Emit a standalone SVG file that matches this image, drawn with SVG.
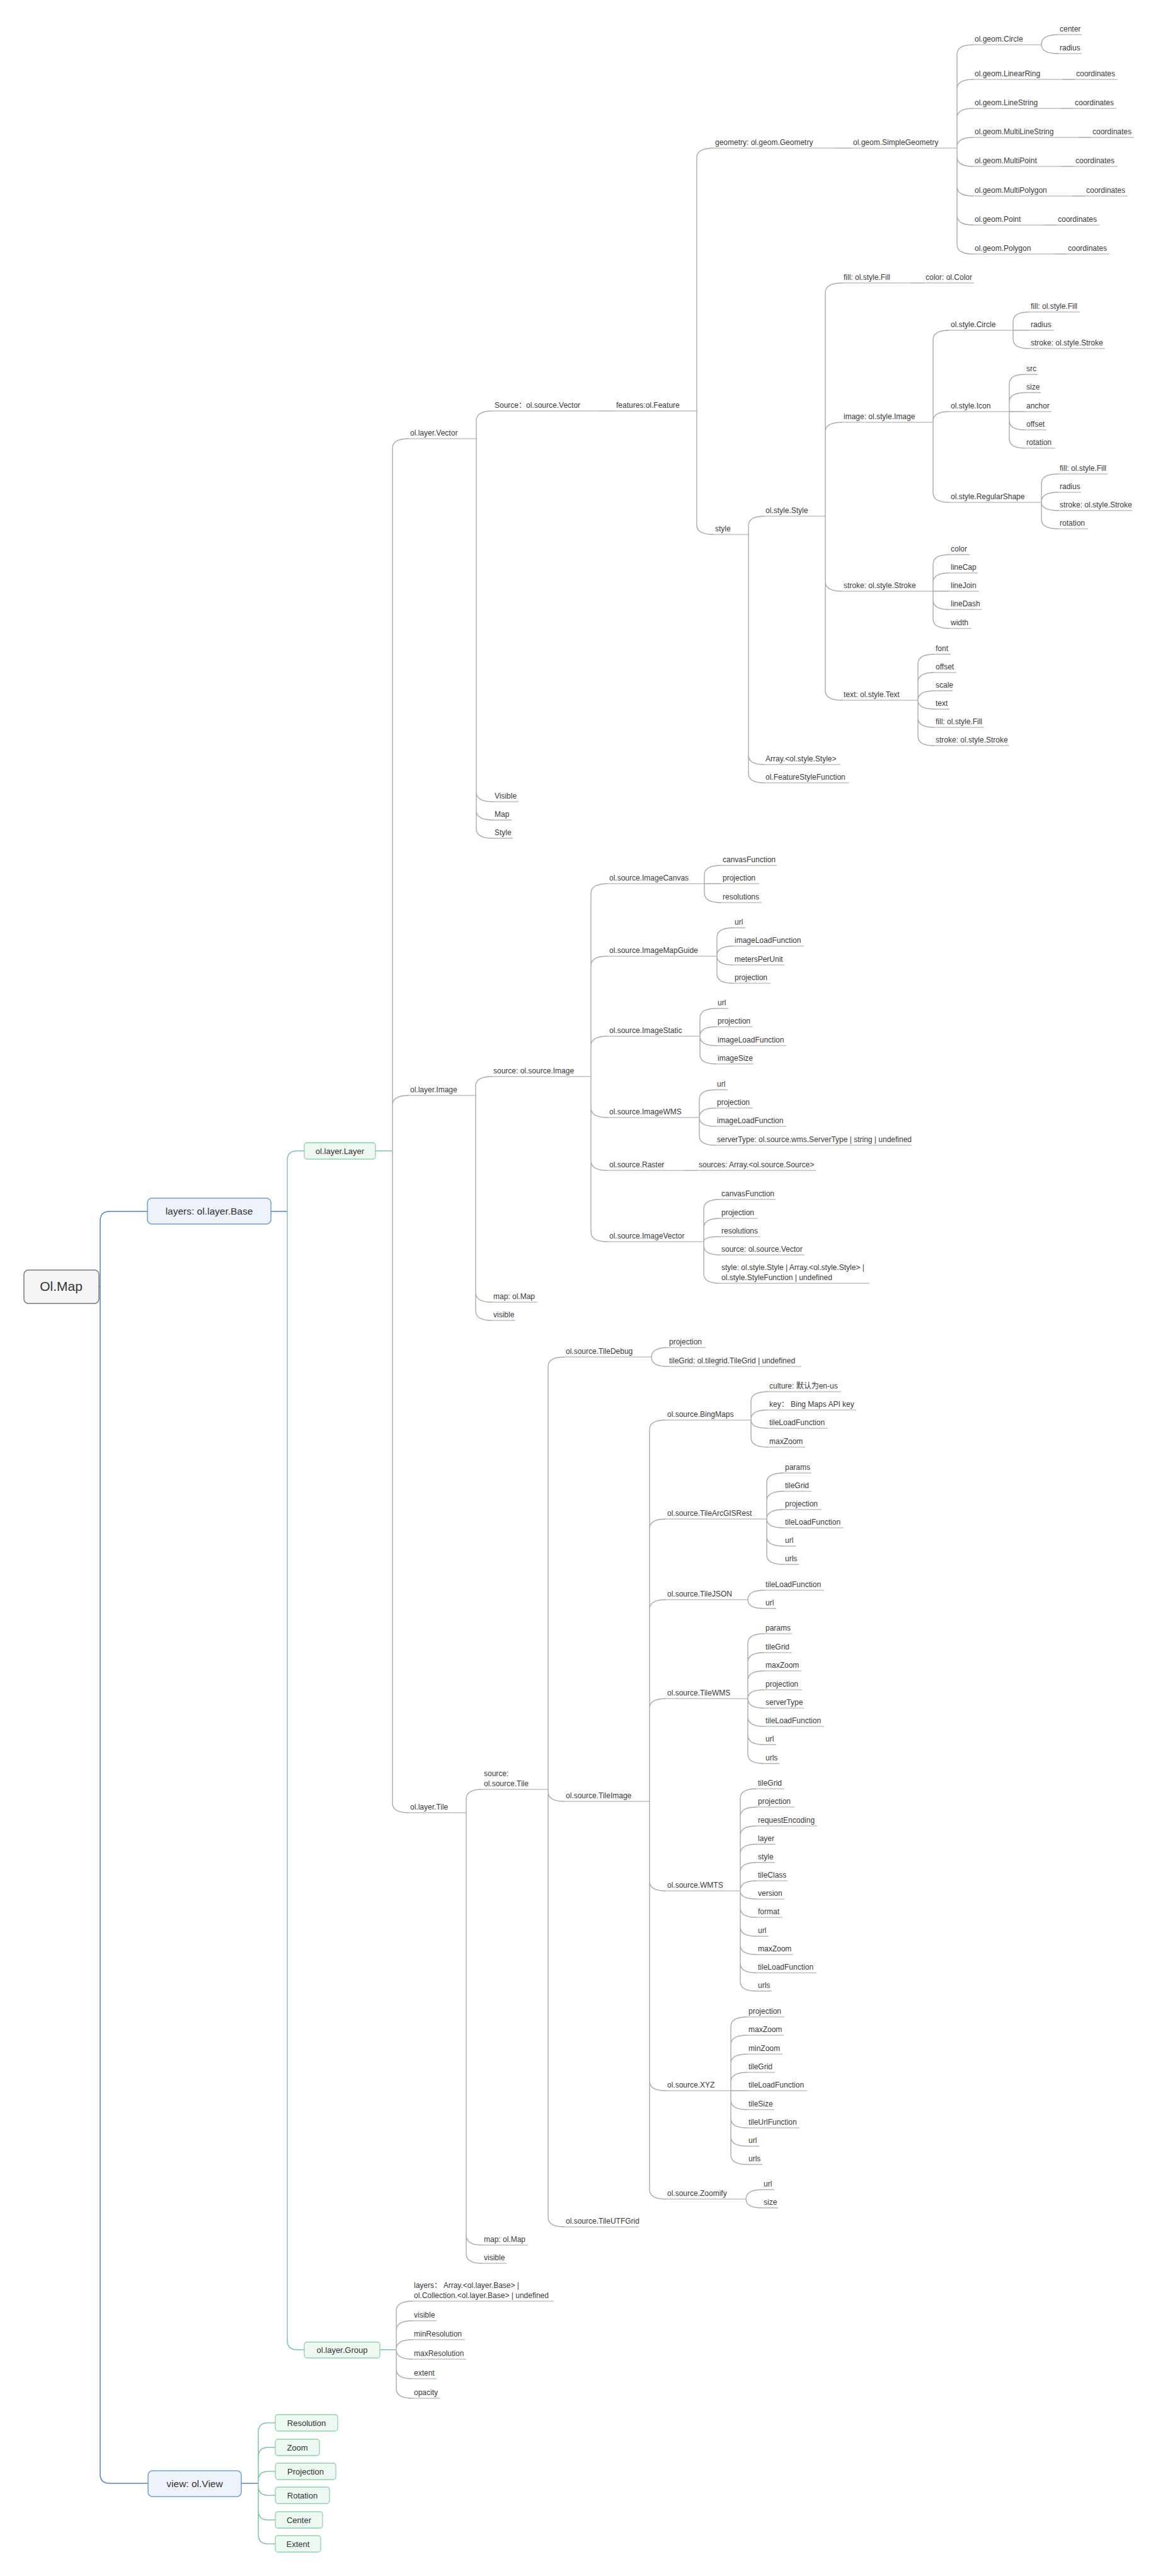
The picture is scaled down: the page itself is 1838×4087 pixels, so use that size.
<svg xmlns="http://www.w3.org/2000/svg" width="1838" height="4087" viewBox="0 0 1838 4087">
<style>
.n text{font-family:"Liberation Sans","Noto Sans CJK SC",sans-serif;font-size:12px;fill:#3a3a3a}
.n path{stroke:#a3a3a3;stroke-width:1.2;fill:none}
.bx text{font-family:"Liberation Sans","Noto Sans CJK SC",sans-serif;fill:#333;text-anchor:middle}
.bb{fill:#eef3fb;stroke:#6f9fd6;stroke-width:1.5}
.gb{fill:#eef8f2;stroke:#8dd3a8;stroke-width:1.3}
#connectors path{fill:none}
.cg{stroke:#ababab;stroke-width:1.4}
.cb{stroke:#4f82c2;stroke-width:1.5}
.cn{stroke:#7cc79a;stroke-width:1.5}
</style>
<rect width="1838" height="4087" fill="#fff"/>
<g id="connectors">
<path class="cb" d="M156 2041H159V1937Q159 1922 174 1922H234M159 2041V3925Q159 3940 174 3940H235M430 1922H456M383 3940H410"/>
<path class="cn" d="M456 1922V1841Q456 1826 471 1826H483M456 1922V3713Q456 3728 471 3728H483M596 1826H623M603 3728H629"/>
<path class="cn" d="M410 3940V3859Q410 3844 425 3844H437M410 3940V3898Q410 3883 425 3883H437M410 3940V3936Q410 3921 425 3921H437M410 3940V3944Q410 3959 425 3959H437M410 3940V3983Q410 3998 425 3998H437M410 3940V4021Q410 4036 425 4036H437"/>
<path class="cg" d="M623 1826V711Q623 696 649 696M623 1826V1753Q623 1738 649 1738M623 1826V2861Q623 2876 649 2876"/>
<path class="cg" d="M756 696V667Q756 652 783 652M756 696V1257Q756 1272 783 1272M756 696V1286Q756 1301 783 1301M756 696V1315Q756 1330 783 1330"/>
<path class="cg" d="M950 652H976"/>
<path class="cg" d="M1106 652V250Q1106 235 1133 235M1106 652V833Q1106 848 1133 848"/>
<path class="cg" d="M1326 235H1352"/>
<path class="cg" d="M1519 235V86Q1519 71 1545 71M1519 235V141Q1519 126 1545 126M1519 235V187Q1519 172 1545 172M1519 235V233Q1519 218 1545 218M1519 235V249Q1519 264 1545 264M1519 235V296Q1519 311 1545 311M1519 235V342Q1519 357 1545 357M1519 235V388Q1519 403 1545 403"/>
<path class="cg" d="M1686 126H1706M1684 172H1704M1712 218H1732M1685 264H1705M1702 311H1722M1657 357H1677M1673 403H1693"/>
<path class="cg" d="M1653 71V70Q1653 55 1680 55M1653 71Q1653 85 1680 85"/>
<path class="cg" d="M1188 848V834Q1188 819 1213 819M1188 848V1198Q1188 1213 1213 1213M1188 848V1227Q1188 1242 1213 1242"/>
<path class="cg" d="M1310 819V464Q1310 449 1337 449M1310 819V685Q1310 670 1337 670M1310 819V923Q1310 938 1337 938M1310 819V1096Q1310 1111 1337 1111"/>
<path class="cg" d="M1446 449H1467"/>
<path class="cg" d="M1481 670V539Q1481 524 1507 524M1481 670V668Q1481 653 1507 653M1481 670V782Q1481 797 1507 797"/>
<path class="cg" d="M1608 524V510Q1608 495 1634 495M1608 524H1634M1608 524V538Q1608 553 1634 553"/>
<path class="cg" d="M1602 653V609Q1602 594 1627 594M1602 653V638Q1602 623 1627 623M1602 653H1627M1602 653V667Q1602 682 1627 682M1602 653V696Q1602 711 1627 711"/>
<path class="cg" d="M1653 797V767Q1653 752 1680 752M1653 797V796Q1653 781 1680 781M1653 797Q1653 810 1680 810M1653 797V824Q1653 839 1680 839"/>
<path class="cg" d="M1481 938V895Q1481 880 1507 880M1481 938V924Q1481 909 1507 909M1481 938H1507M1481 938V952Q1481 967 1507 967M1481 938V982Q1481 997 1507 997"/>
<path class="cg" d="M1457 1111V1053Q1457 1038 1483 1038M1457 1111V1082Q1457 1067 1483 1067M1457 1111Q1457 1096 1483 1096M1457 1111Q1457 1125 1483 1125M1457 1111V1139Q1457 1154 1483 1154M1457 1111V1168Q1457 1183 1483 1183"/>
<path class="cg" d="M755 1738V1723Q755 1708 781 1708M755 1738V2051Q755 2066 781 2066M755 1738V2080Q755 2095 781 2095"/>
<path class="cg" d="M938 1708V1417Q938 1402 965 1402M938 1708V1532Q938 1517 965 1517M938 1708V1659Q938 1644 965 1644M938 1708V1758Q938 1773 965 1773M938 1708V1842Q938 1857 965 1857M938 1708V1955Q938 1970 965 1970"/>
<path class="cg" d="M1085 1857H1107"/>
<path class="cg" d="M1118 1402V1388Q1118 1373 1145 1373M1118 1402H1145M1118 1402V1417Q1118 1432 1145 1432"/>
<path class="cg" d="M1138 1517V1487Q1138 1472 1164 1472M1138 1517V1516Q1138 1501 1164 1501M1138 1517Q1138 1531 1164 1531M1138 1517V1545Q1138 1560 1164 1560"/>
<path class="cg" d="M1111 1644V1615Q1111 1600 1137 1600M1111 1644Q1111 1629 1137 1629M1111 1644Q1111 1659 1137 1659M1111 1644V1673Q1111 1688 1137 1688"/>
<path class="cg" d="M1110 1773V1744Q1110 1729 1136 1729M1110 1773Q1110 1758 1136 1758M1110 1773Q1110 1787 1136 1787M1110 1773V1802Q1110 1817 1136 1817"/>
<path class="cg" d="M1117 1970V1918Q1117 1903 1143 1903M1117 1970V1948Q1117 1933 1143 1933M1117 1970Q1117 1962 1143 1962M1117 1970V1976Q1117 1991 1143 1991M1117 1970V2021Q1117 2036 1143 2036"/>
<path class="cg" d="M740 2876V2854Q740 2839 766 2839M740 2876V3547Q740 3562 766 3562M740 2876V3576Q740 3591 766 3591"/>
<path class="cg" d="M870 2839V2168Q870 2153 896 2153M870 2839V2843Q870 2858 896 2858M870 2839V3518Q870 3533 896 3533"/>
<path class="cg" d="M1034 2153Q1034 2138 1060 2138M1034 2153Q1034 2168 1060 2168"/>
<path class="cg" d="M1031 2858V2268Q1031 2253 1057 2253M1031 2858V2425Q1031 2410 1057 2410M1031 2858V2553Q1031 2538 1057 2538M1031 2858V2710Q1031 2695 1057 2695M1031 2858V2985Q1031 3000 1057 3000M1031 2858V3302Q1031 3317 1057 3317M1031 2858V3474Q1031 3489 1057 3489"/>
<path class="cg" d="M1192 2253V2223Q1192 2208 1219 2208M1192 2253V2252Q1192 2237 1219 2237M1192 2253Q1192 2266 1219 2266M1192 2253V2281Q1192 2296 1219 2296"/>
<path class="cg" d="M1217 2410V2352Q1217 2337 1244 2337M1217 2410V2381Q1217 2366 1244 2366M1217 2410Q1217 2395 1244 2395M1217 2410Q1217 2424 1244 2424M1217 2410V2438Q1217 2453 1244 2453M1217 2410V2467Q1217 2482 1244 2482"/>
<path class="cg" d="M1187 2538Q1187 2523 1213 2523M1187 2538Q1187 2552 1213 2552"/>
<path class="cg" d="M1187 2695V2607Q1187 2592 1213 2592M1187 2695V2637Q1187 2622 1213 2622M1187 2695V2666Q1187 2651 1213 2651M1187 2695Q1187 2681 1213 2681M1187 2695Q1187 2710 1213 2710M1187 2695V2724Q1187 2739 1213 2739M1187 2695V2753Q1187 2768 1213 2768M1187 2695V2783Q1187 2798 1213 2798"/>
<path class="cg" d="M1175 3000V2853Q1175 2838 1201 2838M1175 3000V2882Q1175 2867 1201 2867M1175 3000V2912Q1175 2897 1201 2897M1175 3000V2941Q1175 2926 1201 2926M1175 3000V2970Q1175 2955 1201 2955M1175 3000V2999Q1175 2984 1201 2984M1175 3000Q1175 3013 1201 3013M1175 3000V3027Q1175 3042 1201 3042M1175 3000V3057Q1175 3072 1201 3072M1175 3000V3086Q1175 3101 1201 3101M1175 3000V3115Q1175 3130 1201 3130M1175 3000V3144Q1175 3159 1201 3159"/>
<path class="cg" d="M1160 3317V3215Q1160 3200 1186 3200M1160 3317V3244Q1160 3229 1186 3229M1160 3317V3274Q1160 3259 1186 3259M1160 3317V3303Q1160 3288 1186 3288M1160 3317H1186M1160 3317V3332Q1160 3347 1186 3347M1160 3317V3361Q1160 3376 1186 3376M1160 3317V3390Q1160 3405 1186 3405M1160 3317V3419Q1160 3434 1186 3434"/>
<path class="cg" d="M1184 3489Q1184 3474 1210 3474M1184 3489Q1184 3503 1210 3503"/>
<path class="cg" d="M629 3728V3666Q629 3651 655 3651M629 3728V3697Q629 3682 655 3682M629 3728V3727Q629 3712 655 3712M629 3728Q629 3743 655 3743M629 3728V3759Q629 3774 655 3774M629 3728V3790Q629 3805 655 3805"/>
</g>

<g id="n-root" class="bx"><rect x="38" y="2015" width="119" height="53" rx="7" fill="#f4f4f4" stroke="#7a7a7a" stroke-width="1.5"/><text x="97" y="2048" font-size="21">Ol.Map</text></g>
<g id="n-layers" class="bx"><rect class="bb" x="234" y="1901" width="196" height="41" rx="7"/><text x="332" y="1927" font-size="15.5">layers: ol.layer.Base</text></g>
<g id="n-view" class="bx"><rect class="bb" x="235" y="3920" width="148" height="41" rx="7"/><text x="309" y="3946" font-size="15.5">view: ol.View</text></g>
<g id="n-layer" class="bx"><rect class="gb" x="483" y="1813" width="113" height="26" rx="4"/><text x="539.5" y="1831" font-size="13">ol.layer.Layer</text></g>
<g id="n-group" class="bx"><rect class="gb" x="483" y="3716" width="120" height="25" rx="4"/><text x="543" y="3733" font-size="13">ol.layer.Group</text></g>
<g id="n-resolution" class="bx"><rect class="gb" x="437" y="3831" width="99" height="26" rx="4"/><text x="486.5" y="3849" font-size="13">Resolution</text></g>
<g id="n-zoom" class="bx"><rect class="gb" x="437" y="3870" width="70" height="26" rx="4"/><text x="472" y="3888" font-size="13">Zoom</text></g>
<g id="n-projection" class="bx"><rect class="gb" x="437" y="3908" width="96" height="26" rx="4"/><text x="485" y="3926" font-size="13">Projection</text></g>
<g id="n-rotation" class="bx"><rect class="gb" x="437" y="3946" width="86" height="26" rx="4"/><text x="480" y="3964" font-size="13">Rotation</text></g>
<g id="n-center" class="bx"><rect class="gb" x="437" y="3985" width="75" height="26" rx="4"/><text x="474.5" y="4003" font-size="13">Center</text></g>
<g id="n-extent" class="bx"><rect class="gb" x="437" y="4023" width="72" height="26" rx="4"/><text x="473" y="4041" font-size="13">Extent</text></g>

<g class="n">
<g id="n-vector"><text x="651" y="691">ol.layer.Vector</text><path d="M649 696H756"/></g>
<g id="n-src-vector"><text x="785" y="647">Source：ol.source.Vector</text><path d="M783 652H950"/></g>
<g id="n-features"><text x="978" y="647">features:ol.Feature</text><path d="M976 652H1106"/></g>
<g id="n-v-visible"><text x="785" y="1267">Visible</text><path d="M783 1272H823"/></g>
<g id="n-v-map"><text x="785" y="1296">Map</text><path d="M783 1301H812"/></g>
<g id="n-v-style"><text x="785" y="1325">Style</text><path d="M783 1330H814"/></g>
<g id="n-geometry"><text x="1135" y="230">geometry: ol.geom.Geometry</text><path d="M1133 235H1326"/></g>
<g id="n-simplegeom"><text x="1354" y="230">ol.geom.SimpleGeometry</text><path d="M1352 235H1519"/></g>
<g id="n-gcircle"><text x="1547" y="66">ol.geom.Circle</text><path d="M1545 71H1653"/></g>
<g id="n-gc-center"><text x="1682" y="50">center</text><path d="M1680 55H1717"/></g>
<g id="n-gc-radius"><text x="1682" y="80">radius</text><path d="M1680 85H1717"/></g>
<g id="n-linearring"><text x="1547" y="121">ol.geom.LinearRing</text><path d="M1545 126H1686"/></g>
<g id="n-lr-coord"><text x="1708" y="121">coordinates</text><path d="M1706 126H1774"/></g>
<g id="n-linestring"><text x="1547" y="167">ol.geom.LineString</text><path d="M1545 172H1684"/></g>
<g id="n-ls-coord"><text x="1706" y="167">coordinates</text><path d="M1704 172H1772"/></g>
<g id="n-multilinestring"><text x="1547" y="213">ol.geom.MultiLineString</text><path d="M1545 218H1712"/></g>
<g id="n-mls-coord"><text x="1734" y="213">coordinates</text><path d="M1732 218H1800"/></g>
<g id="n-multipoint"><text x="1547" y="259">ol.geom.MultiPoint</text><path d="M1545 264H1685"/></g>
<g id="n-mp-coord"><text x="1707" y="259">coordinates</text><path d="M1705 264H1774"/></g>
<g id="n-multipolygon"><text x="1547" y="306">ol.geom.MultiPolygon</text><path d="M1545 311H1702"/></g>
<g id="n-mpg-coord"><text x="1724" y="306">coordinates</text><path d="M1722 311H1790"/></g>
<g id="n-point"><text x="1547" y="352">ol.geom.Point</text><path d="M1545 357H1657"/></g>
<g id="n-pt-coord"><text x="1679" y="352">coordinates</text><path d="M1677 357H1745"/></g>
<g id="n-polygon"><text x="1547" y="398">ol.geom.Polygon</text><path d="M1545 403H1673"/></g>
<g id="n-pg-coord"><text x="1695" y="398">coordinates</text><path d="M1693 403H1761"/></g>
<g id="n-style"><text x="1135" y="843">style</text><path d="M1133 848H1188"/></g>
<g id="n-stylestyle"><text x="1215" y="814">ol.style.Style</text><path d="M1213 819H1310"/></g>
<g id="n-arraystyle"><text x="1215" y="1208">Array.&lt;ol.style.Style&gt;</text><path d="M1213 1213H1334"/></g>
<g id="n-fsf"><text x="1215" y="1237">ol.FeatureStyleFunction</text><path d="M1213 1242H1348"/></g>
<g id="n-sfill"><text x="1339" y="444">fill: ol.style.Fill</text><path d="M1337 449H1446"/></g>
<g id="n-scolor"><text x="1469" y="444">color: ol.Color</text><path d="M1467 449H1546"/></g>
<g id="n-simage"><text x="1339" y="665">image: ol.style.Image</text><path d="M1337 670H1481"/></g>
<g id="n-sstroke"><text x="1339" y="933">stroke: ol.style.Stroke</text><path d="M1337 938H1481"/></g>
<g id="n-stext"><text x="1339" y="1106">text: ol.style.Text</text><path d="M1337 1111H1457"/></g>
<g id="n-scircle"><text x="1509" y="519">ol.style.Circle</text><path d="M1507 524H1608"/></g>
<g id="n-sc-fill"><text x="1636" y="490">fill: ol.style.Fill</text><path d="M1634 495H1714"/></g>
<g id="n-sc-radius"><text x="1636" y="519">radius</text><path d="M1634 524H1673"/></g>
<g id="n-sc-stroke"><text x="1636" y="548">stroke: ol.style.Stroke</text><path d="M1634 553H1754"/></g>
<g id="n-sicon"><text x="1509" y="648">ol.style.Icon</text><path d="M1507 653H1602"/></g>
<g id="n-si-src"><text x="1629" y="589">src</text><path d="M1627 594H1647"/></g>
<g id="n-si-size"><text x="1629" y="618">size</text><path d="M1627 623H1652"/></g>
<g id="n-si-anchor"><text x="1629" y="648">anchor</text><path d="M1627 653H1669"/></g>
<g id="n-si-offset"><text x="1629" y="677">offset</text><path d="M1627 682H1661"/></g>
<g id="n-si-rotation"><text x="1629" y="706">rotation</text><path d="M1627 711H1675"/></g>
<g id="n-sregular"><text x="1509" y="792">ol.style.RegularShape</text><path d="M1507 797H1653"/></g>
<g id="n-sr-fill"><text x="1682" y="747">fill: ol.style.Fill</text><path d="M1680 752H1758"/></g>
<g id="n-sr-radius"><text x="1682" y="776">radius</text><path d="M1680 781H1716"/></g>
<g id="n-sr-stroke"><text x="1682" y="805">stroke: ol.style.Stroke</text><path d="M1680 810H1797"/></g>
<g id="n-sr-rotation"><text x="1682" y="834">rotation</text><path d="M1680 839H1727"/></g>
<g id="n-ss-color"><text x="1509" y="875">color</text><path d="M1507 880H1539"/></g>
<g id="n-ss-linecap"><text x="1509" y="904">lineCap</text><path d="M1507 909H1552"/></g>
<g id="n-ss-linejoin"><text x="1509" y="933">lineJoin</text><path d="M1507 938H1554"/></g>
<g id="n-ss-linedash"><text x="1509" y="962">lineDash</text><path d="M1507 967H1558"/></g>
<g id="n-ss-width"><text x="1509" y="992">width</text><path d="M1507 997H1542"/></g>
<g id="n-st-font"><text x="1485" y="1033">font</text><path d="M1483 1038H1509"/></g>
<g id="n-st-offset"><text x="1485" y="1062">offset</text><path d="M1483 1067H1518"/></g>
<g id="n-st-scale"><text x="1485" y="1091">scale</text><path d="M1483 1096H1512"/></g>
<g id="n-st-text"><text x="1485" y="1120">text</text><path d="M1483 1125H1507"/></g>
<g id="n-st-fill"><text x="1485" y="1149">fill: ol.style.Fill</text><path d="M1483 1154H1562"/></g>
<g id="n-st-stroke"><text x="1485" y="1178">stroke: ol.style.Stroke</text><path d="M1483 1183H1602"/></g>

<g id="n-image"><text x="651" y="1733">ol.layer.Image</text><path d="M649 1738H755"/></g>
<g id="n-srcimage"><text x="783" y="1703">source: ol.source.Image</text><path d="M781 1708H938"/></g>
<g id="n-i-map"><text x="783" y="2061">map: ol.Map</text><path d="M781 2066H853"/></g>
<g id="n-i-visible"><text x="783" y="2090">visible</text><path d="M781 2095H818"/></g>
<g id="n-imagecanvas"><text x="967" y="1397">ol.source.ImageCanvas</text><path d="M965 1402H1118"/></g>
<g id="n-ic-canvasfn"><text x="1147" y="1368">canvasFunction</text><path d="M1145 1373H1233"/></g>
<g id="n-ic-proj"><text x="1147" y="1397">projection</text><path d="M1145 1402H1205"/></g>
<g id="n-ic-res"><text x="1147" y="1427">resolutions</text><path d="M1145 1432H1209"/></g>
<g id="n-imagemapguide"><text x="967" y="1512">ol.source.ImageMapGuide</text><path d="M965 1517H1138"/></g>
<g id="n-im-url"><text x="1166" y="1467">url</text><path d="M1164 1472H1183"/></g>
<g id="n-im-ilf"><text x="1166" y="1496">imageLoadFunction</text><path d="M1164 1501H1276"/></g>
<g id="n-im-mpu"><text x="1166" y="1526">metersPerUnit</text><path d="M1164 1531H1245"/></g>
<g id="n-im-proj"><text x="1166" y="1555">projection</text><path d="M1164 1560H1223"/></g>
<g id="n-imagestatic"><text x="967" y="1639">ol.source.ImageStatic</text><path d="M965 1644H1111"/></g>
<g id="n-is-url"><text x="1139" y="1595">url</text><path d="M1137 1600H1156"/></g>
<g id="n-is-proj"><text x="1139" y="1624">projection</text><path d="M1137 1629H1195"/></g>
<g id="n-is-ilf"><text x="1139" y="1654">imageLoadFunction</text><path d="M1137 1659H1248"/></g>
<g id="n-is-size"><text x="1139" y="1683">imageSize</text><path d="M1137 1688H1196"/></g>
<g id="n-imagewms"><text x="967" y="1768">ol.source.ImageWMS</text><path d="M965 1773H1110"/></g>
<g id="n-iw-url"><text x="1138" y="1724">url</text><path d="M1136 1729H1155"/></g>
<g id="n-iw-proj"><text x="1138" y="1753">projection</text><path d="M1136 1758H1195"/></g>
<g id="n-iw-ilf"><text x="1138" y="1782">imageLoadFunction</text><path d="M1136 1787H1248"/></g>
<g id="n-iw-server"><text x="1138" y="1812">serverType: ol.source.wms.ServerType | string | undefined</text><path d="M1136 1817H1447"/></g>
<g id="n-raster"><text x="967" y="1852">ol.source.Raster</text><path d="M965 1857H1085"/></g>
<g id="n-r-sources"><text x="1109" y="1852">sources: Array.&lt;ol.source.Source&gt;</text><path d="M1107 1857H1295"/></g>
<g id="n-imagevector"><text x="967" y="1965">ol.source.ImageVector</text><path d="M965 1970H1117"/></g>
<g id="n-iv-canvasfn"><text x="1145" y="1898">canvasFunction</text><path d="M1143 1903H1231"/></g>
<g id="n-iv-proj"><text x="1145" y="1928">projection</text><path d="M1143 1933H1203"/></g>
<g id="n-iv-res"><text x="1145" y="1957">resolutions</text><path d="M1143 1962H1207"/></g>
<g id="n-iv-source"><text x="1145" y="1986">source: ol.source.Vector</text><path d="M1143 1991H1277"/></g>
<g id="n-iv-style"><text x="1145" y="2015">style: ol.style.Style | Array.&lt;ol.style.Style&gt; |</text><text x="1145" y="2031">ol.style.StyleFunction | undefined</text><path d="M1143 2036H1380"/></g>

<g id="n-tile"><text x="651" y="2871">ol.layer.Tile</text><path d="M649 2876H740"/></g>
<g id="n-srctile"><text x="768" y="2818">source:</text><text x="768" y="2834">ol.source.Tile</text><path d="M766 2839H870"/></g>
<g id="n-t-map"><text x="768" y="3557">map: ol.Map</text><path d="M766 3562H838"/></g>
<g id="n-t-visible"><text x="768" y="3586">visible</text><path d="M766 3591H804"/></g>
<g id="n-tiledebug"><text x="898" y="2148">ol.source.TileDebug</text><path d="M896 2153H1034"/></g>
<g id="n-td-proj"><text x="1062" y="2133">projection</text><path d="M1060 2138H1120"/></g>
<g id="n-td-tilegrid"><text x="1062" y="2163">tileGrid: ol.tilegrid.TileGrid | undefined</text><path d="M1060 2168H1272"/></g>
<g id="n-tileimage"><text x="898" y="2853">ol.source.TileImage</text><path d="M896 2858H1031"/></g>
<g id="n-tileutfgrid"><text x="898" y="3528">ol.source.TileUTFGrid</text><path d="M896 3533H1014"/></g>
<g id="n-bing"><text x="1059" y="2248">ol.source.BingMaps</text><path d="M1057 2253H1192"/></g>
<g id="n-b-culture"><text x="1221" y="2203">culture: 默认为en-us</text><path d="M1219 2208H1335"/></g>
<g id="n-b-key"><text x="1221" y="2232">key： Bing Maps API key</text><path d="M1219 2237H1359"/></g>
<g id="n-b-tlf"><text x="1221" y="2261">tileLoadFunction</text><path d="M1219 2266H1314"/></g>
<g id="n-b-maxzoom"><text x="1221" y="2291">maxZoom</text><path d="M1219 2296H1278"/></g>
<g id="n-arcgis"><text x="1059" y="2405">ol.source.TileArcGISRest</text><path d="M1057 2410H1217"/></g>
<g id="n-a-params"><text x="1246" y="2332">params</text><path d="M1244 2337H1288"/></g>
<g id="n-a-tilegrid"><text x="1246" y="2361">tileGrid</text><path d="M1244 2366H1288"/></g>
<g id="n-a-proj"><text x="1246" y="2390">projection</text><path d="M1244 2395H1304"/></g>
<g id="n-a-tlf"><text x="1246" y="2419">tileLoadFunction</text><path d="M1244 2424H1339"/></g>
<g id="n-a-url"><text x="1246" y="2448">url</text><path d="M1244 2453H1263"/></g>
<g id="n-a-urls"><text x="1246" y="2477">urls</text><path d="M1244 2482H1268"/></g>
<g id="n-tilejson"><text x="1059" y="2533">ol.source.TileJSON</text><path d="M1057 2538H1187"/></g>
<g id="n-j-tlf"><text x="1215" y="2518">tileLoadFunction</text><path d="M1213 2523H1308"/></g>
<g id="n-j-url"><text x="1215" y="2547">url</text><path d="M1213 2552H1232"/></g>
<g id="n-tilewms"><text x="1059" y="2690">ol.source.TileWMS</text><path d="M1057 2695H1187"/></g>
<g id="n-w-params"><text x="1215" y="2587">params</text><path d="M1213 2592H1257"/></g>
<g id="n-w-tilegrid"><text x="1215" y="2617">tileGrid</text><path d="M1213 2622H1257"/></g>
<g id="n-w-maxzoom"><text x="1215" y="2646">maxZoom</text><path d="M1213 2651H1272"/></g>
<g id="n-w-proj"><text x="1215" y="2676">projection</text><path d="M1213 2681H1273"/></g>
<g id="n-w-server"><text x="1215" y="2705">serverType</text><path d="M1213 2710H1276"/></g>
<g id="n-w-tlf"><text x="1215" y="2734">tileLoadFunction</text><path d="M1213 2739H1308"/></g>
<g id="n-w-url"><text x="1215" y="2763">url</text><path d="M1213 2768H1232"/></g>
<g id="n-w-urls"><text x="1215" y="2793">urls</text><path d="M1213 2798H1237"/></g>
<g id="n-wmts"><text x="1059" y="2995">ol.source.WMTS</text><path d="M1057 3000H1175"/></g>
<g id="n-m-tilegrid"><text x="1203" y="2833">tileGrid</text><path d="M1201 2838H1245"/></g>
<g id="n-m-proj"><text x="1203" y="2862">projection</text><path d="M1201 2867H1261"/></g>
<g id="n-m-reqenc"><text x="1203" y="2892">requestEncoding</text><path d="M1201 2897H1297"/></g>
<g id="n-m-layer"><text x="1203" y="2921">layer</text><path d="M1201 2926H1231"/></g>
<g id="n-m-style"><text x="1203" y="2950">style</text><path d="M1201 2955H1230"/></g>
<g id="n-m-tileclass"><text x="1203" y="2979">tileClass</text><path d="M1201 2984H1250"/></g>
<g id="n-m-version"><text x="1203" y="3008">version</text><path d="M1201 3013H1245"/></g>
<g id="n-m-format"><text x="1203" y="3037">format</text><path d="M1201 3042H1242"/></g>
<g id="n-m-url"><text x="1203" y="3067">url</text><path d="M1201 3072H1220"/></g>
<g id="n-m-maxzoom"><text x="1203" y="3096">maxZoom</text><path d="M1201 3101H1259"/></g>
<g id="n-m-tlf"><text x="1203" y="3125">tileLoadFunction</text><path d="M1201 3130H1296"/></g>
<g id="n-m-urls"><text x="1203" y="3154">urls</text><path d="M1201 3159H1225"/></g>
<g id="n-xyz"><text x="1059" y="3312">ol.source.XYZ</text><path d="M1057 3317H1160"/></g>
<g id="n-x-proj"><text x="1188" y="3195">projection</text><path d="M1186 3200H1245"/></g>
<g id="n-x-maxzoom"><text x="1188" y="3224">maxZoom</text><path d="M1186 3229H1244"/></g>
<g id="n-x-minzoom"><text x="1188" y="3254">minZoom</text><path d="M1186 3259H1242"/></g>
<g id="n-x-tilegrid"><text x="1188" y="3283">tileGrid</text><path d="M1186 3288H1230"/></g>
<g id="n-x-tlf"><text x="1188" y="3312">tileLoadFunction</text><path d="M1186 3317H1281"/></g>
<g id="n-x-tilesize"><text x="1188" y="3342">tileSize</text><path d="M1186 3347H1229"/></g>
<g id="n-x-tileurlfn"><text x="1188" y="3371">tileUrlFunction</text><path d="M1186 3376H1269"/></g>
<g id="n-x-url"><text x="1188" y="3400">url</text><path d="M1186 3405H1205"/></g>
<g id="n-x-urls"><text x="1188" y="3429">urls</text><path d="M1186 3434H1210"/></g>
<g id="n-zoomify"><text x="1059" y="3484">ol.source.Zoomify</text><path d="M1057 3489H1184"/></g>
<g id="n-z-url"><text x="1212" y="3469">url</text><path d="M1210 3474H1229"/></g>
<g id="n-z-size"><text x="1212" y="3498">size</text><path d="M1210 3503H1235"/></g>

<g id="n-g-layers"><text x="657" y="3630">layers：  Array.&lt;ol.layer.Base&gt; |</text><text x="657" y="3646">ol.Collection.&lt;ol.layer.Base&gt; | undefined</text><path d="M655 3651H879"/></g>
<g id="n-g-visible"><text x="657" y="3677">visible</text><path d="M655 3682H693"/></g>
<g id="n-g-minres"><text x="657" y="3707">minResolution</text><path d="M655 3712H738"/></g>
<g id="n-g-maxres"><text x="657" y="3738">maxResolution</text><path d="M655 3743H740"/></g>
<g id="n-g-extent"><text x="657" y="3769">extent</text><path d="M655 3774H693"/></g>
<g id="n-g-opacity"><text x="657" y="3800">opacity</text><path d="M655 3805H699"/></g>
</g>
</svg>
